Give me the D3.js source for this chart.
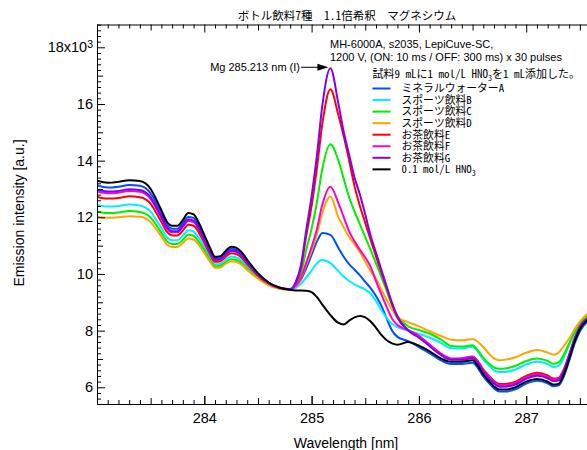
<!DOCTYPE html>
<html><head><meta charset="utf-8">
<script src="https://cdn.jsdelivr.net/npm/d3@7"></script>
<style>
body{margin:0;background:#fff;}
svg{display:block;}
</style></head><body>
<svg id="chart" width="587" height="450"></svg>
<script>
// Wavelength grid [nm]
const wavelength = [283.0,283.1,283.2,283.3,283.4,283.5,283.55,283.6,283.65,283.7,283.75,283.8,283.85,283.9,283.95,
  284.0,284.05,284.1,284.15,284.2,284.25,284.3,284.35,284.4,284.5,284.6,284.7,284.8,
  284.85,284.9,284.95,285.0,285.05,285.1,285.175,285.25,285.3,285.35,285.4,285.45,285.5,285.55,285.6,285.65,285.7,285.75,285.8,
  285.9,286.0,286.1,286.2,286.3,286.4,286.5,286.55,286.6,286.65,286.7,286.75,286.8,286.9,287.0,287.1,287.2,287.25,287.3,287.35,287.4,287.45,287.5,287.6];

// Emission intensity, in units of 10^3 a.u.
const mineralA = [13.12,13.05,13.08,13.14,13.11,12.84,12.51,12.12,11.74,11.6,11.6,11.79,12.01,11.98,11.68,11.28,10.87,10.56,10.58,10.77,10.89,10.85,10.69,10.44,10.0,9.69,9.51,9.46,
  9.55,9.8,10.2,10.68,11.15,11.45,11.38,10.92,10.6,10.35,10.15,9.95,9.72,9.5,9.22,8.88,8.42,8.0,7.78,
  7.63,7.42,7.2,6.96,6.82,6.82,6.87,6.68,6.38,6.16,5.96,5.85,5.85,5.93,6.13,6.23,6.14,6.04,6.06,6.38,6.93,7.53,7.98,8.4];
const sportsB = [12.43,12.38,12.4,12.45,12.42,12.2,11.93,11.62,11.31,11.19,11.19,11.35,11.54,11.5,11.27,10.94,10.61,10.34,10.36,10.51,10.62,10.58,10.46,10.26,9.89,9.63,9.49,9.45,
  9.5,9.65,9.88,10.12,10.38,10.49,10.38,10.1,9.9,9.75,9.63,9.54,9.45,9.3,9.05,8.72,8.45,8.24,8.12,
  8.0,7.88,7.75,7.58,7.38,7.37,7.43,7.25,6.98,6.78,6.6,6.54,6.54,6.63,6.8,6.9,6.82,6.72,6.75,7.05,7.5,7.9,8.22,8.58];
const sportsC = [12.2,12.15,12.17,12.22,12.19,11.99,11.74,11.45,11.16,11.06,11.06,11.2,11.38,11.34,11.13,10.83,10.52,10.27,10.29,10.42,10.52,10.49,10.38,10.19,9.85,9.62,9.49,9.45,
  9.62,10.0,10.85,11.6,12.55,13.72,14.58,14.0,13.35,12.7,12.2,11.75,11.3,10.85,10.38,9.9,9.4,8.9,8.52,
  8.15,8.02,7.9,7.7,7.46,7.44,7.48,7.3,7.04,6.85,6.7,6.65,6.66,6.76,6.93,7.02,6.93,6.83,6.87,7.15,7.55,7.95,8.25,8.6];
const sportsD = [12.02,11.98,12.0,12.04,12.02,11.83,11.59,11.32,11.05,10.95,10.95,11.09,11.25,11.21,11.02,10.74,10.45,10.22,10.23,10.36,10.45,10.42,10.32,10.14,9.83,9.6,9.48,9.45,
  9.55,9.82,10.33,10.82,11.42,12.15,12.73,12.0,11.64,11.3,11.05,10.77,10.42,10.1,9.83,9.45,9.08,8.75,8.47,
  8.3,8.15,7.98,7.82,7.68,7.66,7.7,7.6,7.42,7.2,7.02,6.95,6.97,7.06,7.22,7.32,7.23,7.15,7.22,7.45,7.72,8.05,8.32,8.7];
const teaE = [12.72,12.66,12.68,12.74,12.71,12.47,12.17,11.83,11.49,11.36,11.36,11.53,11.74,11.7,11.45,11.09,10.72,10.43,10.45,10.61,10.73,10.7,10.56,10.34,9.94,9.66,9.5,9.45,
  9.65,10.2,11.35,12.4,13.75,15.3,16.52,15.6,14.85,14.0,13.1,12.4,11.8,11.2,10.62,10.05,9.5,8.93,8.45,
  8.02,7.8,7.5,7.2,7.0,7.02,7.09,6.92,6.63,6.42,6.22,6.12,6.12,6.2,6.4,6.51,6.42,6.31,6.33,6.63,7.15,7.72,8.14,8.5];
const teaF = [12.91,12.85,12.87,12.93,12.9,12.65,12.33,11.97,11.61,11.47,11.47,11.66,11.87,11.83,11.57,11.19,10.8,10.49,10.51,10.68,10.81,10.77,10.63,10.39,9.97,9.67,9.51,9.46,
  9.57,9.85,10.4,10.95,11.6,12.45,13.08,12.5,12.0,11.5,11.15,10.85,10.58,10.25,9.75,9.28,8.83,8.42,8.2,
  8.02,7.82,7.5,7.2,7.02,7.02,7.08,6.9,6.6,6.39,6.19,6.07,6.07,6.15,6.35,6.46,6.37,6.27,6.29,6.6,7.13,7.7,8.13,8.5];
const teaG = [12.97,12.91,12.93,12.99,12.96,12.7,12.38,12.02,11.65,11.51,11.51,11.7,11.92,11.88,11.6,11.22,10.82,10.51,10.53,10.7,10.83,10.8,10.65,10.41,9.98,9.68,9.51,9.46,
  9.7,10.3,11.55,12.75,14.2,15.95,17.26,16.0,15.0,14.2,13.4,12.8,12.1,11.35,10.75,10.15,9.55,8.97,8.5,
  8.0,7.75,7.45,7.15,6.97,6.97,7.03,6.84,6.55,6.33,6.13,6.02,6.02,6.1,6.3,6.41,6.32,6.22,6.24,6.56,7.1,7.68,8.12,8.5];
const hno3 = [13.29,13.22,13.25,13.31,13.28,13.0,12.65,12.25,11.85,11.7,11.7,11.9,12.15,12.1,11.8,11.38,10.95,10.61,10.63,10.82,10.96,10.92,10.76,10.5,10.03,9.7,9.52,9.44,
  9.42,9.42,9.41,9.36,9.18,8.92,8.55,8.27,8.22,8.35,8.47,8.52,8.47,8.32,8.1,7.85,7.66,7.55,7.5,
  7.6,7.47,7.27,7.03,6.9,6.9,6.95,6.75,6.45,6.23,6.03,5.92,5.92,6.0,6.2,6.29,6.2,6.1,6.12,6.45,7.0,7.6,8.05,8.45];

const seriesNames = ["ミネラルウォーターA","スポーツ飲料B","スポーツ飲料C","スポーツ飲料D","お茶飲料E","お茶飲料F","お茶飲料G","0.1 mol/L HNO3"];
const seriesValues = [mineralA, sportsB, sportsC, sportsD, teaE, teaF, teaG, hno3];
const seriesColors = ["#0050ff","#00f0ff","#00f000","#ffa500","#ff0000","#ff00cc","#8000ff","#000000"];

const xLabelTicks = [284, 285, 286, 287];
const xMajorTicks = [283, 284, 285, 286, 287];
const yMajorTicks = [6, 8, 10, 12, 14, 16, 18];

const titleText = "ボトル飲料7種　1.1倍希釈　マグネシウム";
const xTitle = "Wavelength [nm]";
const yTitle = "Emission intensity [a.u.]";
const infoLine1 = "MH-6000A, s2035, LepiCuve-SC,";
const infoLine2 = "1200 V, (ON: 10 ms / OFF: 300 ms) x 30 pulses";
const noteText = ["試料9 mLに1 mol/L HNO", "3", "を1 mL添加した。"];
const peakLabel = "Mg 285.213 nm (I)";
const peakWavelength = 285.175, peakValue = 17.26;

const LAT = '"Liberation Sans", Arial, Helvetica, sans-serif';
const JP = '"Noto Sans Mono CJK JP", "Noto Sans CJK JP", monospace';

const svg = d3.select("#chart");
const L = 97, R = 590.6, T = 24.5, B = 404;
const x = d3.scaleLinear().domain([283, 287.6]).range([L, R]);
const y = d3.scaleLinear().domain([5.41, 18.805]).range([B, T]);

function steps(a, b, s) { const o = []; for (let i = 0; a + i * s <= b + 1e-9; i++) o.push(+(a + i * s).toFixed(3)); return o; }
const xMid = steps(283.5, 287.5, 1);
const xMinor = steps(283.1, 287.6, 0.1).filter(v => Math.abs(v * 2 - Math.round(v * 2)) > 1e-6);
const yMid = steps(7, 17, 2);
const yMinor = steps(5.6, 18.8, 0.2).filter(v => Math.abs(v - Math.round(v)) > 1e-6);

// plot lines
svg.append("defs").append("clipPath").attr("id", "clip")
  .append("rect").attr("x", L).attr("y", T).attr("width", R - L + 5).attr("height", B - T);
const line = d3.line().x((d, i) => x(wavelength[i])).y(d => y(d)).curve(d3.curveMonotoneX);
const gl = svg.append("g").attr("clip-path", "url(#clip)");
seriesValues.forEach((vals, k) => {
  gl.append("path").datum(vals).attr("d", line).attr("fill", "none")
    .attr("stroke", seriesColors[k]).attr("stroke-width", 2).attr("stroke-linejoin", "round");
});

// axes
function axis(gen, tr, vals, size, fmt, pad, keepDomain) {
  const g = svg.append("g").attr("transform", tr)
    .call(gen.tickValues(vals).tickSizeInner(-size).tickSizeOuter(0).tickPadding(pad).tickFormat(fmt));
  if (!keepDomain) g.select(".domain").remove();
  g.selectAll("line").attr("stroke", "#000");
  g.select(".domain").attr("stroke", "#000");
  g.attr("font-family", LAT).attr("font-size", 14.5);
  return g;
}
const noLab = () => "";
// bottom
axis(d3.axisBottom(x), `translate(0,${B})`, xMajorTicks, 8, noLab, 9, true);
axis(d3.axisBottom(x), `translate(0,${B})`, xLabelTicks, 8, d => d, 9, false);
axis(d3.axisBottom(x), `translate(0,${B})`, xMid, 6, noLab, 9, false);
axis(d3.axisBottom(x), `translate(0,${B})`, xMinor, 4, noLab, 9, false);
// top
axis(d3.axisTop(x), `translate(0,${T})`, xMajorTicks, 8, noLab, 3, true);
axis(d3.axisTop(x), `translate(0,${T})`, xMid, 6, noLab, 3, false);
axis(d3.axisTop(x), `translate(0,${T})`, xMinor, 4, noLab, 3, false);
// left
const gy = axis(d3.axisLeft(y), `translate(${L},0)`, yMajorTicks, 8, d => d === 18 ? "18x10" : d, 4, true);
gy.selectAll(".tick text").filter(d => d === 18).append("tspan")
  .attr("font-size", 10.5).attr("dy", "-0.45em").text("3");
axis(d3.axisLeft(y), `translate(${L},0)`, yMid, 6, noLab, 4, false);
axis(d3.axisLeft(y), `translate(${L},0)`, yMinor, 4, noLab, 4, false);

// axis titles
svg.append("text").attr("x", 346).attr("y", 448).attr("text-anchor", "middle")
  .attr("font-family", LAT).attr("font-size", 14).text(xTitle);
svg.append("text").attr("transform", "translate(24,213) rotate(-90)").attr("text-anchor", "middle")
  .attr("font-family", LAT).attr("font-size", 14).text(yTitle);

// title
svg.append("text").attr("x", 347).attr("y", 19.5).attr("text-anchor", "middle")
  .attr("font-family", JP).attr("font-size", 11.5).text(titleText);

// info text
svg.append("text").attr("x", 330).attr("y", 47.5).attr("font-family", LAT).attr("font-size", 11).text(infoLine1);
svg.append("text").attr("x", 330).attr("y", 60.5).attr("font-family", LAT).attr("font-size", 11).text(infoLine2);
const nt = svg.append("text").attr("x", 372.5).attr("y", 77.5).attr("font-family", JP).attr("font-size", 11);
nt.append("tspan").text(noteText[0]);
nt.append("tspan").attr("font-size", 8).attr("dy", 3).text(noteText[1]);
nt.append("tspan").attr("dy", -3).text(noteText[2]);

// peak annotation
const py = y(peakValue) - 1, px = x(peakWavelength) - 2;
svg.append("text").attr("x", 300).attr("y", py + 3.8).attr("text-anchor", "end")
  .attr("font-family", LAT).attr("font-size", 11).text(peakLabel);
svg.append("line").attr("x1", 301).attr("x2", px - 8).attr("y1", py).attr("y2", py).attr("stroke", "#000").attr("stroke-width", 1);
svg.append("path").attr("d", `M${px - 11},${py - 3.5}L${px},${py}L${px - 11},${py + 3.5}Z`).attr("fill", "#000");

// legend
const lg = svg.append("g");
seriesNames.forEach((name, k) => {
  const ry = 88.5 + k * 11.55;
  lg.append("line").attr("x1", 372.5).attr("x2", 390.5).attr("y1", ry).attr("y2", ry)
    .attr("stroke", seriesColors[k]).attr("stroke-width", 2);
  const t = lg.append("text").attr("x", 401.5).attr("y", ry + 3.8).attr("font-family", JP).attr("font-size", 10.8);
  if (name.endsWith("HNO3")) {
    t.append("tspan").text(name.slice(0, -1));
    t.append("tspan").attr("font-size", 8).attr("dy", 3).text("3");
  } else t.text(name);
});
</script>
</body></html>
